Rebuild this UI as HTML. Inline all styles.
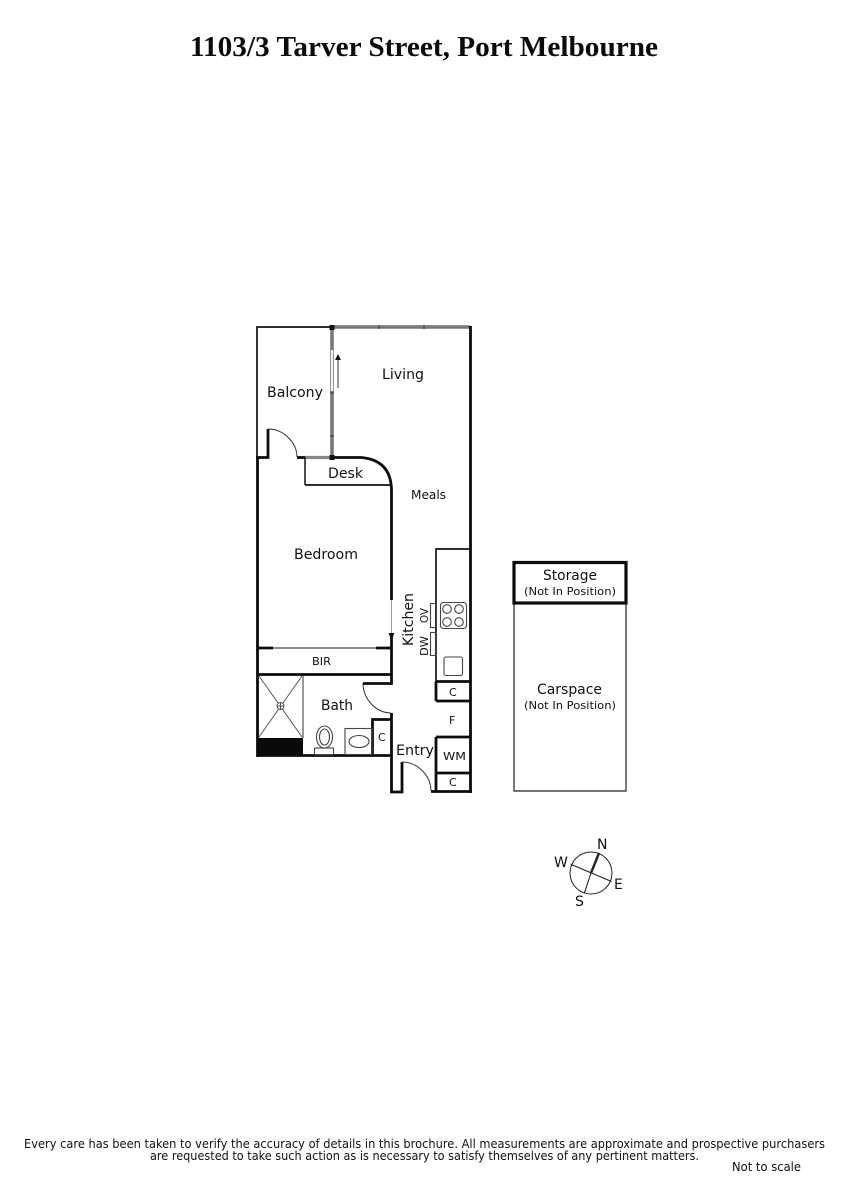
<!DOCTYPE html>
<html>
<head>
<meta charset="utf-8">
<style>
html,body{margin:0;padding:0;background:#fff}
svg{display:block}
text{font-family:"Liberation Sans",sans-serif;fill:#111}
.t{font-family:"DejaVu Sans",sans-serif;font-size:14px}
.s{font-family:"DejaVu Sans",sans-serif;font-size:11px}
.f{font-family:"DejaVu Sans",sans-serif;font-size:12px}
</style>
</head>
<body>
<svg width="848" height="1200" viewBox="0 0 848 1200" xmlns="http://www.w3.org/2000/svg" fill="none" stroke-linecap="butt">
<text x="190" y="56" style="font-family:'Liberation Serif',serif;font-weight:bold;font-size:29px;fill:#0a0a0a" textLength="468" lengthAdjust="spacingAndGlyphs">1103/3 Tarver Street, Port Melbourne</text>

<!-- thin walls -->
<g stroke="#111" stroke-width="1.7">
<path d="M257 457V327H332"/>
<path d="M305 485H391"/>
<path d="M436 682V549H470"/>
</g>
<path d="M514 603V791H626V603" stroke="#222" stroke-width="1.2"/>
<path d="M303 675V738" stroke="#555" stroke-width="1.2"/>

<!-- glass -->
<path d="M332 327H470" stroke="#777" stroke-width="3.600"/>
<path d="M332 327V457" stroke="#777" stroke-width="3.600"/>
<path d="M305 457.500H332" stroke="#888" stroke-width="3.200"/>
<path d="M273 648H376" stroke="#666" stroke-width="1.500"/>
<path d="M332 350V391" stroke="#fff" stroke-width="1.800"/>
<g stroke="#333" stroke-width="1">
<path d="M379 325V329M424 325V329M330 393H334M330 436H334"/>
</g>

<!-- thick walls -->
<g stroke="#0c0c0c" stroke-width="2.800">
<path d="M470.500 326V793"/>
<path d="M257.500 457V757"/>
<path d="M256 457.500H268V429"/>
<path d="M297 457.500H305"/>
<path d="M332 457.500H361Q391 460 391.500 490V600"/>
<path d="M391.500 633V683.500H363"/>
<path d="M391.500 713V792H402V762"/>
<path d="M431 791.500H472"/>
<path d="M257 674.500H392"/>
<path d="M257 648H273M376 648H392"/>
<path d="M257 755.500H392"/>
<path d="M372.500 755V719.500H392"/>
<path d="M436 681.500H470M436 681.500V701M436 701H470"/>
<path d="M436 737H470M436 737V791M436 773H470"/>
</g>
<rect x="514" y="562.500" width="112" height="40.500" stroke="#0c0c0c" stroke-width="3.200"/>
<rect x="329.500" y="325" width="5" height="5" fill="#111"/>
<rect x="329.500" y="455" width="5" height="5" fill="#111"/>

<!-- door arcs -->
<g stroke="#333" stroke-width="1">
<path d="M268 429C284 429 297 443 297 457"/>
<path d="M363 683C363 699 376 713 391 713"/>
<path d="M402 762C418 762 431 776 431 791"/>
<path d="M391.500 600V633" stroke="#999"/>
</g>
<path d="M305 457V485" stroke="#111" stroke-width="1.500"/>

<!-- arrows -->
<path d="M338 388V359" stroke="#666" stroke-width="1.300"/>
<path d="M338 354L335 360H341Z" fill="#111"/>
<path d="M391.500 640L388.500 633H394.500Z" fill="#111"/>

<!-- shower -->
<rect x="257" y="738" width="46" height="17" fill="#0a0a0a"/>
<g stroke="#555" stroke-width="1">
<path d="M259 676L302 737M302 676L259 737"/>
<circle cx="280.500" cy="706" r="3.500" fill="#fff"/>
<path d="M277 706H284M280.500 702.500V709.500"/>
</g>

<!-- toilet and basin -->
<g stroke="#444" stroke-width="1.100">
<ellipse cx="324.500" cy="737" rx="8" ry="11" fill="#fff"/>
<ellipse cx="324.500" cy="737" rx="5" ry="8"/>
<rect x="314.500" y="748" width="19" height="7"/>
<rect x="345" y="728.500" width="27" height="26"/>
<ellipse cx="359" cy="741.500" rx="10" ry="6"/>
</g>

<!-- kitchen -->
<g stroke="#444" stroke-width="1.100">
<rect x="430.500" y="603.500" width="6" height="24"/>
<rect x="430.500" y="632.500" width="6" height="23"/>
<rect x="440.500" y="602.500" width="26" height="26" rx="3"/>
<circle cx="447" cy="609" r="4.300"/>
<circle cx="459" cy="609" r="4.300"/>
<circle cx="447" cy="622" r="4.300"/>
<circle cx="459" cy="622" r="4.300"/>
<rect x="444" y="657" width="18.500" height="18.500" rx="2"/>
</g>

<!-- labels -->
<text class="t" x="382" y="379" textLength="42" lengthAdjust="spacingAndGlyphs">Living</text>
<text class="t" x="267" y="397" textLength="56" lengthAdjust="spacingAndGlyphs">Balcony</text>
<text class="t" x="328" y="478" textLength="35" lengthAdjust="spacingAndGlyphs">Desk</text>
<text class="f" x="411" y="499" textLength="35" lengthAdjust="spacingAndGlyphs">Meals</text>
<text class="t" x="294" y="559" textLength="64" lengthAdjust="spacingAndGlyphs">Bedroom</text>
<text class="s" x="312" y="665" textLength="19" lengthAdjust="spacingAndGlyphs">BIR</text>
<text class="t" x="321" y="710" textLength="32" lengthAdjust="spacingAndGlyphs">Bath</text>
<text class="t" x="396" y="755" textLength="38" lengthAdjust="spacingAndGlyphs">Entry</text>
<text class="s" x="378" y="741">C</text>
<text class="s" x="449" y="696">C</text>
<text class="s" x="449" y="724">F</text>
<text class="s" x="443" y="760" textLength="23" lengthAdjust="spacingAndGlyphs">WM</text>
<text class="s" x="449" y="786">C</text>
<text class="t" transform="translate(413,646) rotate(-90)" textLength="53" lengthAdjust="spacingAndGlyphs">Kitchen</text>
<text class="s" transform="translate(428,623) rotate(-90)" textLength="15" lengthAdjust="spacingAndGlyphs">OV</text>
<text class="s" transform="translate(428,656) rotate(-90)" textLength="20" lengthAdjust="spacingAndGlyphs">DW</text>

<text class="t" x="543" y="580" textLength="54" lengthAdjust="spacingAndGlyphs">Storage</text>
<text class="s" x="524" y="595" textLength="92" lengthAdjust="spacingAndGlyphs">(Not In Position)</text>
<text class="t" x="537" y="694" textLength="65" lengthAdjust="spacingAndGlyphs">Carspace</text>
<text class="s" x="524" y="709" textLength="92" lengthAdjust="spacingAndGlyphs">(Not In Position)</text>

<!-- compass -->
<g stroke="#222">
<circle cx="591" cy="873" r="21" stroke-width="1"/>
<path d="M570.700 864.300L611.500 881.500M591 873L584.300 893.300" stroke-width="1.100"/>
<path d="M591 873L599 853" stroke-width="2.400"/>
</g>
<text class="t" x="597" y="849">N</text>
<text class="t" x="554" y="867">W</text>
<text class="t" x="614" y="889">E</text>
<text class="t" x="575" y="906">S</text>

<text class="f" x="24" y="1148" textLength="801" lengthAdjust="spacingAndGlyphs">Every care has been taken to verify the accuracy of details in this brochure.  All measurements are approximate and prospective purchasers</text>
<text class="f" x="150" y="1160" textLength="549" lengthAdjust="spacingAndGlyphs">are requested to take such action as is necessary to satisfy themselves of any pertinent matters.</text>
<text class="f" x="732" y="1171" textLength="69" lengthAdjust="spacingAndGlyphs">Not to scale</text>
</svg>
</body>
</html>
